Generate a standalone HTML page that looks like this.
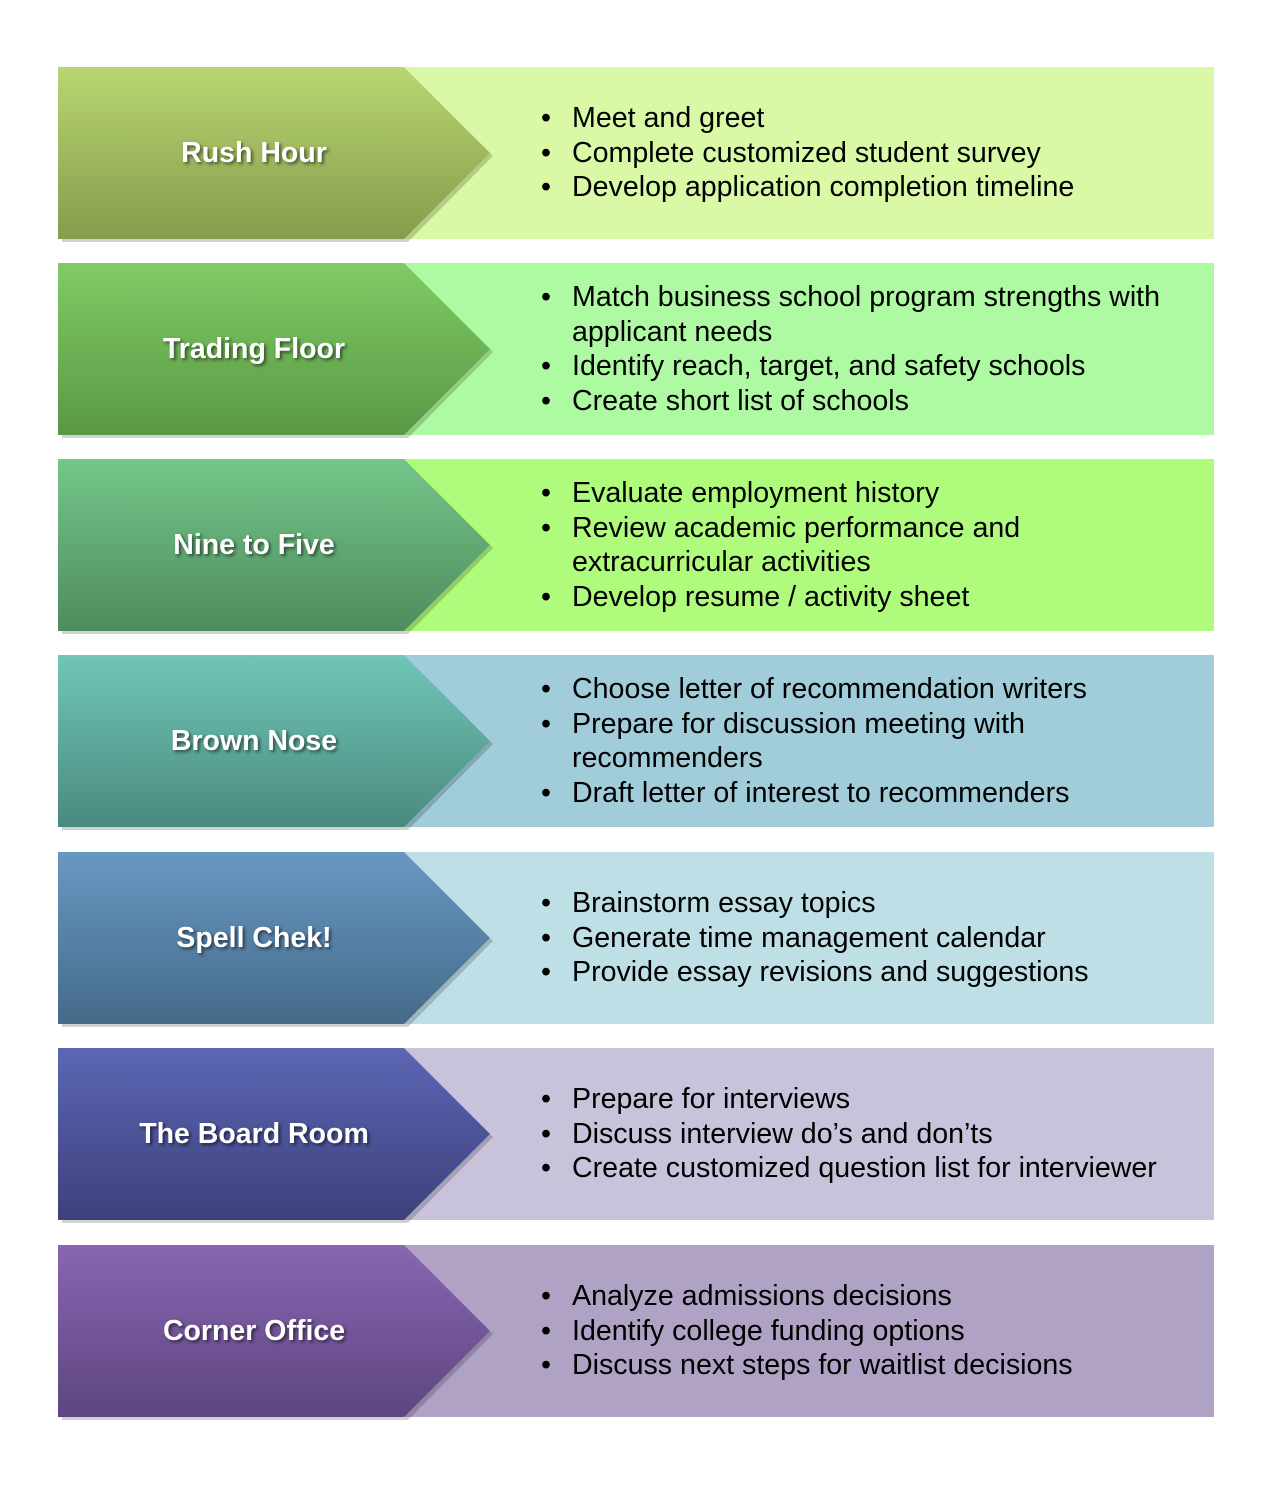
<!DOCTYPE html>
<html><head><meta charset="utf-8"><style>
body{margin:0;width:1278px;height:1496px;background:#fff;position:relative;font-family:"Liberation Sans",Arial,sans-serif;}
.row{position:absolute;left:58px;width:1156px;height:172px;}
.row svg{position:absolute;left:0;top:0;}
.title{position:absolute;left:0;width:392px;top:0;height:172px;display:flex;align-items:center;justify-content:center;color:#fff;font-weight:bold;font-size:28.5px;text-shadow:2px 2px 3px rgba(0,0,0,.55);}
.list{position:absolute;left:480px;top:0;height:172px;width:650px;display:flex;flex-direction:column;justify-content:center;font-size:28.6px;line-height:34.5px;color:#000;}
.li{position:relative;padding-left:34px;}
.li:before{content:"•";position:absolute;left:3px;}
</style></head><body>

<div class="row" style="top:67px">
<svg width="1156" height="180"><defs><linearGradient id="g1" x1="0" y1="0" x2="0" y2="1"><stop offset="0" stop-color="#b8d672"/><stop offset="1" stop-color="#879b4c"/></linearGradient></defs>
<rect x="346" y="0" width="810" height="172" fill="#d9f9a6"/>
<polygon points="2,2 348,2 433,86 348,172 2,172" fill="#000" opacity=".18" transform="translate(2,3)"/>
<polygon points="0,0 346,0 432,86 346,172 0,172" fill="url(#g1)"/></svg>
<div class="title">Rush Hour</div>
<div class="list"><div class="li">Meet and greet</div><div class="li">Complete customized student survey</div><div class="li">Develop application completion timeline</div></div>
</div>

<div class="row" style="top:263px">
<svg width="1156" height="180"><defs><linearGradient id="g2" x1="0" y1="0" x2="0" y2="1"><stop offset="0" stop-color="#7fcb66"/><stop offset="1" stop-color="#5a9844"/></linearGradient></defs>
<rect x="346" y="0" width="810" height="172" fill="#aefaa2"/>
<polygon points="2,2 348,2 433,86 348,172 2,172" fill="#000" opacity=".18" transform="translate(2,3)"/>
<polygon points="0,0 346,0 432,86 346,172 0,172" fill="url(#g2)"/></svg>
<div class="title">Trading Floor</div>
<div class="list"><div class="li">Match business school program strengths with applicant needs</div><div class="li">Identify reach, target, and safety schools</div><div class="li">Create short list of schools</div></div>
</div>

<div class="row" style="top:459px">
<svg width="1156" height="180"><defs><linearGradient id="g3" x1="0" y1="0" x2="0" y2="1"><stop offset="0" stop-color="#74c68a"/><stop offset="1" stop-color="#4e8c5d"/></linearGradient></defs>
<rect x="346" y="0" width="810" height="172" fill="#affb7c"/>
<polygon points="2,2 348,2 433,86 348,172 2,172" fill="#000" opacity=".18" transform="translate(2,3)"/>
<polygon points="0,0 346,0 432,86 346,172 0,172" fill="url(#g3)"/></svg>
<div class="title">Nine to Five</div>
<div class="list"><div class="li">Evaluate employment history</div><div class="li">Review academic performance and<br>extracurricular activities</div><div class="li">Develop resume / activity sheet</div></div>
</div>

<div class="row" style="top:655px">
<svg width="1156" height="180"><defs><linearGradient id="g4" x1="0" y1="0" x2="0" y2="1"><stop offset="0" stop-color="#70c6b8"/><stop offset="1" stop-color="#4a8a7e"/></linearGradient></defs>
<rect x="346" y="0" width="810" height="172" fill="#a0cdd9"/>
<polygon points="2,2 348,2 433,86 348,172 2,172" fill="#000" opacity=".18" transform="translate(2,3)"/>
<polygon points="0,0 346,0 432,86 346,172 0,172" fill="url(#g4)"/></svg>
<div class="title">Brown Nose</div>
<div class="list"><div class="li">Choose letter of recommendation writers</div><div class="li">Prepare for discussion meeting with<br>recommenders</div><div class="li">Draft letter of interest to recommenders</div></div>
</div>

<div class="row" style="top:852px">
<svg width="1156" height="180"><defs><linearGradient id="g5" x1="0" y1="0" x2="0" y2="1"><stop offset="0" stop-color="#6898c2"/><stop offset="1" stop-color="#456a8a"/></linearGradient></defs>
<rect x="346" y="0" width="810" height="172" fill="#bfdfe6"/>
<polygon points="2,2 348,2 433,86 348,172 2,172" fill="#000" opacity=".18" transform="translate(2,3)"/>
<polygon points="0,0 346,0 432,86 346,172 0,172" fill="url(#g5)"/></svg>
<div class="title">Spell Chek!</div>
<div class="list"><div class="li">Brainstorm essay topics</div><div class="li">Generate time management calendar</div><div class="li">Provide essay revisions and suggestions</div></div>
</div>

<div class="row" style="top:1048px">
<svg width="1156" height="180"><defs><linearGradient id="g6" x1="0" y1="0" x2="0" y2="1"><stop offset="0" stop-color="#5c66b4"/><stop offset="1" stop-color="#3c407c"/></linearGradient></defs>
<rect x="346" y="0" width="810" height="172" fill="#c8c2da"/>
<polygon points="2,2 348,2 433,86 348,172 2,172" fill="#000" opacity=".18" transform="translate(2,3)"/>
<polygon points="0,0 346,0 432,86 346,172 0,172" fill="url(#g6)"/></svg>
<div class="title">The Board Room</div>
<div class="list"><div class="li">Prepare for interviews</div><div class="li">Discuss interview do’s and don’ts</div><div class="li" style="white-space:nowrap">Create customized question list for interviewer</div></div>
</div>

<div class="row" style="top:1245px">
<svg width="1156" height="180"><defs><linearGradient id="g7" x1="0" y1="0" x2="0" y2="1"><stop offset="0" stop-color="#8866b2"/><stop offset="1" stop-color="#5e4580"/></linearGradient></defs>
<rect x="346" y="0" width="810" height="172" fill="#b0a2c4"/>
<polygon points="2,2 348,2 433,86 348,172 2,172" fill="#000" opacity=".18" transform="translate(2,3)"/>
<polygon points="0,0 346,0 432,86 346,172 0,172" fill="url(#g7)"/></svg>
<div class="title">Corner Office</div>
<div class="list"><div class="li">Analyze admissions decisions</div><div class="li">Identify college funding options</div><div class="li">Discuss next steps for waitlist decisions</div></div>
</div>

</body></html>
